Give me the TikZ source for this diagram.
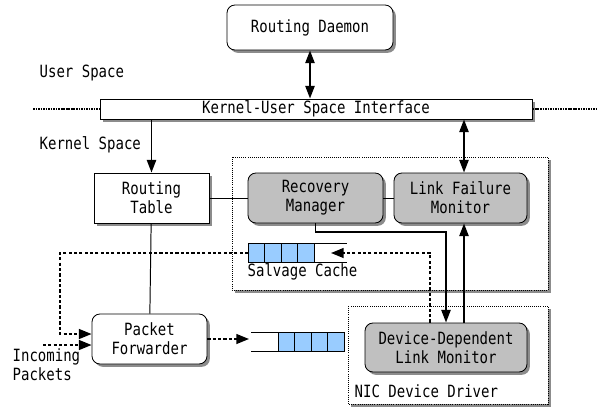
\documentclass[tikz,border=0pt]{standalone}
\usepackage{fontspec}
\usetikzlibrary{arrows.meta,shadows}
\newfontfamily\diagfont[FakeStretch=0.83]{DejaVu Sans Mono}
\def\pxu{0.025cm}
\definecolor{boxgray}{RGB}{192,192,192}
\definecolor{cellblue}{RGB}{153,204,255}
\tikzset{
  every node/.style={font=\diagfont\fontsize{12}{13.5}\selectfont},
  shade/.style={drop shadow={shadow xshift=2pt,shadow yshift=-2pt,fill=black,opacity=0.45}},
  plainbox/.style={draw,line width=0.6pt,fill=white,shade,align=center,inner sep=0pt},
  softbox/.style={plainbox,rounded corners=0.2cm},
  graybox/.style={softbox,fill=boxgray},
  container/.style={draw,densely dotted,line width=0.5pt,fill=white,shade},
  label/.style={inner sep=1pt},
  link/.style={line width=0.7pt},
  arrow/.style={line width=1.4pt,-{Triangle[length=9pt,width=6.5pt]}},
  biarrow/.style={line width=1.4pt,{Triangle[length=9pt,width=6.5pt]}-{Triangle[length=9pt,width=6.5pt]}},
  dotarrow/.style={line width=1.2pt,dash pattern=on 2.2pt off 1.6pt,-{Triangle[length=9pt,width=7pt]}},
  sep/.style={line width=0.8pt,dash pattern=on 1.2pt off 0.6pt},
  cell/.style={draw,line width=0.6pt,fill=cellblue},
}
\begin{document}
\begin{tikzpicture}[x=0.025cm,y=-0.025cm]
\useasboundingbox (0,0) rectangle (605,410);
% containers
\draw[container] (232,157) rectangle (548,290);
\draw[container] (348,306) rectangle (548,404);
% boxes
\node[softbox,minimum width=166*\pxu,minimum height=45*\pxu] (daemon) at (310,27.5) {Routing Daemon};
\node[plainbox,minimum width=432*\pxu,minimum height=20*\pxu] (iface) at (316,109) {Kernel-User Space Interface};
\node[plainbox,minimum width=115*\pxu,minimum height=50*\pxu] (rtable) at (151.5,198) {Routing\\Table};
\node[graybox,minimum width=135*\pxu,minimum height=50*\pxu] (rmgr) at (315.5,198) {Recovery\\Manager};
\node[graybox,minimum width=133*\pxu,minimum height=50*\pxu] (lfm) at (460.5,198) {Link Failure\\Monitor};
\node[softbox,minimum width=115*\pxu,minimum height=50*\pxu] (pfwd) at (149.5,339) {Packet\\Forwarder};
\node[graybox,minimum width=162*\pxu,minimum height=49*\pxu] (ddlm) at (446,347.5) {Device-Dependent\\Link Monitor};
% labels
\node[label,anchor=west] (user) at (38,73) {User Space};
\node[label,anchor=west] (kernel) at (38,145) {Kernel Space};
\node[label,anchor=west] (salvage) at (246,272) {Salvage Cache};
\node[label,anchor=west] (nic) at (353,391) {NIC Device Driver};
\node[label,anchor=west,align=left] (incoming) at (11,364.5) {Incoming\\Packets};
% queues
\foreach \i in {0,...,3}
  \draw[cell] (248+16.5*\i,243) rectangle ++(16.5,19);
\draw[line width=0.6pt] (314,243) -- (347,243) (314,262) -- (347,262);
\foreach \i in {0,...,3}
  \draw[cell] (278+16.5*\i,332) rectangle ++(16.5,19);
\draw[line width=0.6pt] (251,332) -- (278,332) (251,351) -- (278,351);
% coordinates
\coordinate (sepL) at (33,109);
\coordinate (sepR) at (598,109);
\coordinate (lfmcol) at (464,0);
\coordinate (tapcol) at (430,0);
\coordinate (loopcol) at (60,0);
\coordinate (cacheIn) at (331,253);
\coordinate (cacheOut) at (248,253);
\coordinate (inStart) at (43,345);
\coordinate (txIn) at (249,0);
% separator
\draw[sep] (sepL) -- (iface.west);
\draw[sep] (iface.east) -- (sepR);
% connectors
\draw[biarrow] (daemon.south) -- (daemon.south |- iface.north);
\draw[arrow] (rtable.north |- iface.south) -- (rtable.north);
\draw[biarrow] (lfmcol |- iface.south) -- (lfmcol |- lfm.north);
\draw[link] (rtable) -- (rmgr);
\draw[link] (rmgr) -- (lfm);
\draw[link] (rtable) -- (pfwd);
\draw[arrow] (rmgr.south) -- ++(0,9) -| (ddlm.north);
\draw[arrow] (lfmcol |- ddlm.north) -- (lfmcol |- lfm.south);
\draw[dotarrow] (tapcol |- ddlm.north) |- (cacheIn);
\draw[dotarrow] (cacheOut) -| ([yshift=0.125cm]loopcol |- pfwd.west) -- ([yshift=0.125cm]pfwd.west);
\draw[dotarrow] (inStart) -- (inStart -| pfwd.west);
\draw[dotarrow] (pfwd.east) -- (pfwd.east -| txIn);
\end{tikzpicture}
\end{document}
